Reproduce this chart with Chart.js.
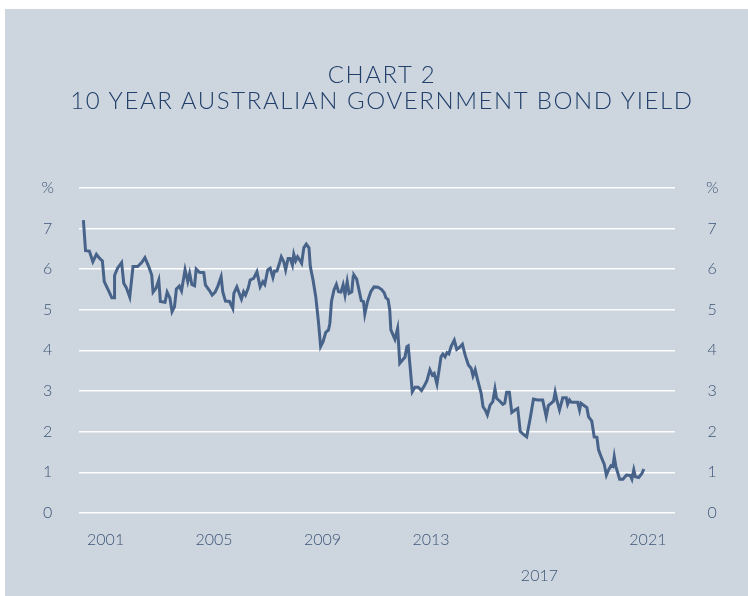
<!DOCTYPE html>
<html>
<head>
<meta charset="utf-8">
<script src="https://cdn.jsdelivr.net/npm/chart.js@4.4.1/dist/chart.umd.min.js"></script>
<style>
  html, body { margin: 0; padding: 0; background: #fff; }
  body { width: 748px; height: 596px; position: relative; overflow: hidden; }
  #panel { position: absolute; left: 5px; top: 9px; width: 743px; height: 587px; background: #cdd5df; }
  #title { position: absolute; left: 0; top: 61px; width: 764px; text-align: center;
           font-family: Lato, sans-serif; font-weight: 300; font-size: 24px; line-height: 26px;
           letter-spacing: 1.6px; color: #22406a; }
  canvas { position: absolute; left: 5px; top: 9px; }
</style>
</head>
<body>
<div id="panel"></div>
<canvas id="chart" width="743" height="587"></canvas>
<div id="title">CHART 2<br>10 YEAR AUSTRALIAN GOVERNMENT BOND YIELD</div>
<script>
// yields (decimal years)
const years = [
  2000.18, 2000.26, 2000.40, 2000.53, 2000.66, 2000.78, 2000.88, 2000.95, 2001.10, 2001.23, 2001.32, 2001.33,
  2001.44, 2001.59, 2001.67, 2001.77, 2001.89, 2002.01, 2002.18, 2002.33, 2002.45, 2002.59, 2002.70, 2002.75,
  2002.86, 2002.96, 2003.02, 2003.19, 2003.27, 2003.37, 2003.45, 2003.54, 2003.61, 2003.72, 2003.80, 2003.93,
  2004.03, 2004.10, 2004.18, 2004.28, 2004.34, 2004.46, 2004.62, 2004.68, 2004.83, 2004.93, 2005.04, 2005.14,
  2005.26, 2005.32, 2005.42, 2005.57, 2005.69, 2005.73, 2005.84, 2005.94, 2006.01, 2006.09, 2006.16, 2006.26,
  2006.33, 2006.46, 2006.58, 2006.70, 2006.80, 2006.87, 2006.98, 2007.07, 2007.17, 2007.23, 2007.32, 2007.42,
  2007.48, 2007.57, 2007.64, 2007.73, 2007.81, 2007.89, 2007.94, 2008.01, 2008.08, 2008.16, 2008.23, 2008.31,
  2008.40, 2008.50, 2008.55, 2008.65, 2008.75, 2008.85, 2008.93, 2009.02, 2009.12, 2009.22, 2009.27, 2009.33,
  2009.42, 2009.51, 2009.59, 2009.68, 2009.76, 2009.83, 2009.91, 2009.98, 2010.08, 2010.13, 2010.16, 2010.26,
  2010.34, 2010.43, 2010.51, 2010.56, 2010.66, 2010.78, 2010.90, 2011.05, 2011.17, 2011.27, 2011.34, 2011.42,
  2011.48, 2011.52, 2011.60, 2011.67, 2011.77, 2011.85, 2011.95, 2012.04, 2012.11, 2012.16, 2012.23, 2012.31,
  2012.41, 2012.53, 2012.65, 2012.75, 2012.85, 2012.96, 2013.05, 2013.12, 2013.22, 2013.30, 2013.37, 2013.44,
  2013.52, 2013.59, 2013.66, 2013.74, 2013.86, 2013.95, 2014.05, 2014.16, 2014.26, 2014.38, 2014.48, 2014.55,
  2014.63, 2014.72, 2014.85, 2014.92, 2015.01, 2015.08, 2015.18, 2015.28, 2015.36, 2015.42, 2015.55, 2015.65,
  2015.72, 2015.79, 2015.89, 2015.98, 2016.10, 2016.20, 2016.29, 2016.41, 2016.53, 2016.66, 2016.78, 2016.93,
  2017.12, 2017.25, 2017.33, 2017.52, 2017.58, 2017.64, 2017.74, 2017.86, 2017.99, 2018.04, 2018.11, 2018.18,
  2018.28, 2018.41, 2018.48, 2018.53, 2018.63, 2018.75, 2018.81, 2018.93, 2019.02, 2019.12, 2019.18, 2019.30,
  2019.39, 2019.47, 2019.55, 2019.64, 2019.71, 2019.76, 2019.82, 2019.96, 2020.08, 2020.21, 2020.35, 2020.41,
  2020.48, 2020.54, 2020.66, 2020.78, 2020.85
];
const yields = [
  7.20, 6.45, 6.44, 6.18, 6.36, 6.26, 6.20, 5.69, 5.48, 5.29, 5.29, 5.84,
  6.02, 6.16, 5.65, 5.53, 5.31, 6.06, 6.06, 6.16, 6.28, 6.06, 5.85, 5.43,
  5.53, 5.73, 5.20, 5.18, 5.43, 5.29, 4.95, 5.07, 5.51, 5.58, 5.46, 5.98,
  5.69, 5.89, 5.62, 5.59, 6.00, 5.92, 5.91, 5.61, 5.47, 5.36, 5.43, 5.58,
  5.81, 5.44, 5.21, 5.20, 5.03, 5.40, 5.56, 5.38, 5.26, 5.44, 5.36, 5.53,
  5.73, 5.77, 5.93, 5.56, 5.69, 5.62, 5.98, 6.02, 5.79, 5.95, 5.95, 6.16,
  6.30, 6.18, 5.98, 6.26, 6.26, 6.10, 6.36, 6.20, 6.30, 6.22, 6.14, 6.52,
  6.61, 6.52, 6.06, 5.73, 5.32, 4.70, 4.09, 4.21, 4.44, 4.50, 4.66, 5.20,
  5.48, 5.62, 5.44, 5.43, 5.61, 5.36, 5.69, 5.40, 5.44, 5.81, 5.85, 5.75,
  5.50, 5.22, 5.20, 4.89, 5.20, 5.44, 5.56, 5.55, 5.50, 5.42, 5.29, 5.25,
  4.99, 4.50, 4.38, 4.27, 4.54, 3.68, 3.76, 3.83, 4.09, 4.11, 3.60, 2.98,
  3.09, 3.09, 3.01, 3.12, 3.25, 3.52, 3.39, 3.43, 3.17, 3.52, 3.84, 3.91,
  3.84, 3.94, 3.91, 4.09, 4.25, 4.02, 4.07, 4.15, 3.88, 3.64, 3.56, 3.37,
  3.52, 3.27, 2.94, 2.61, 2.52, 2.41, 2.65, 2.74, 3.05, 2.82, 2.74, 2.67,
  2.70, 2.97, 2.97, 2.47, 2.53, 2.57, 2.01, 1.93, 1.87, 2.33, 2.80, 2.78,
  2.78, 2.37, 2.64, 2.75, 2.97, 2.78, 2.53, 2.83, 2.83, 2.67, 2.78, 2.72,
  2.72, 2.72, 2.53, 2.70, 2.65, 2.59, 2.37, 2.26, 1.87, 1.86, 1.55, 1.34,
  1.20, 0.93, 1.06, 1.16, 1.14, 1.38, 1.14, 0.83, 0.83, 0.93, 0.92, 0.83,
  1.06, 0.89, 0.87, 0.97, 1.08
];
const yearTicks = [2001, 2005, 2009, 2013, 2017, 2021];
const lowYearLabel = 2017;   // this one sits a row lower in the original
const yMax = 8;              // top gridline carries the "%" unit

const tickColor = '#3d5677';
Chart.defaults.font.family = 'Lato, sans-serif';
Chart.defaults.font.weight = '300';
Chart.defaults.font.size = 16;

const yTickLabel = (v) => (v === yMax ? '%' : String(v));

function yAxis(position, pad, width) {
  return {
    position,
    min: 0,
    max: yMax,
    border: { display: false },
    grid: {
      drawOnChartArea: position === 'left',
      drawTicks: false,
      color: 'rgba(255,255,255,0.95)',
      lineWidth: 1.5
    },
    ticks: { stepSize: 1, padding: pad, crossAlign: 'center', color: tickColor, callback: yTickLabel },
    afterFit: (s) => { s.width = width; }
  };
}

new Chart(document.getElementById('chart'), {
  type: 'line',
  data: {
    datasets: [{
      data: years.map((y, i) => ({ x: y, y: yields[i] })),
      borderColor: '#476389',
      borderWidth: 3,
      pointRadius: 0,
      tension: 0
    }]
  },
  options: {
    responsive: false,
    animation: false,
    layout: { padding: { top: 178.7, left: 0, right: 0, bottom: 0 } },
    plugins: { legend: { display: false }, tooltip: { enabled: false } },
    scales: {
      x: {
        type: 'linear',
        min: 2000,
        max: 2022,
        border: { display: false },
        grid: { display: false, drawTicks: false },
        afterBuildTicks: (s) => { s.ticks = yearTicks.map((v) => ({ value: v })); },
        afterFit: (s) => { s.height = 83.1; },
        ticks: {
          autoSkip: false,
          maxRotation: 0,
          padding: 18,
          color: tickColor,
          font: { lineHeight: '18px' },
          callback: (v) => (v === lowYearLabel ? ['', '', String(v)] : String(v))
        }
      },
      y: yAxis('left', 24.5, 73.5),
      y2: yAxis('right', 31, 73)
    }
  }
});
</script>
</body>
</html>
